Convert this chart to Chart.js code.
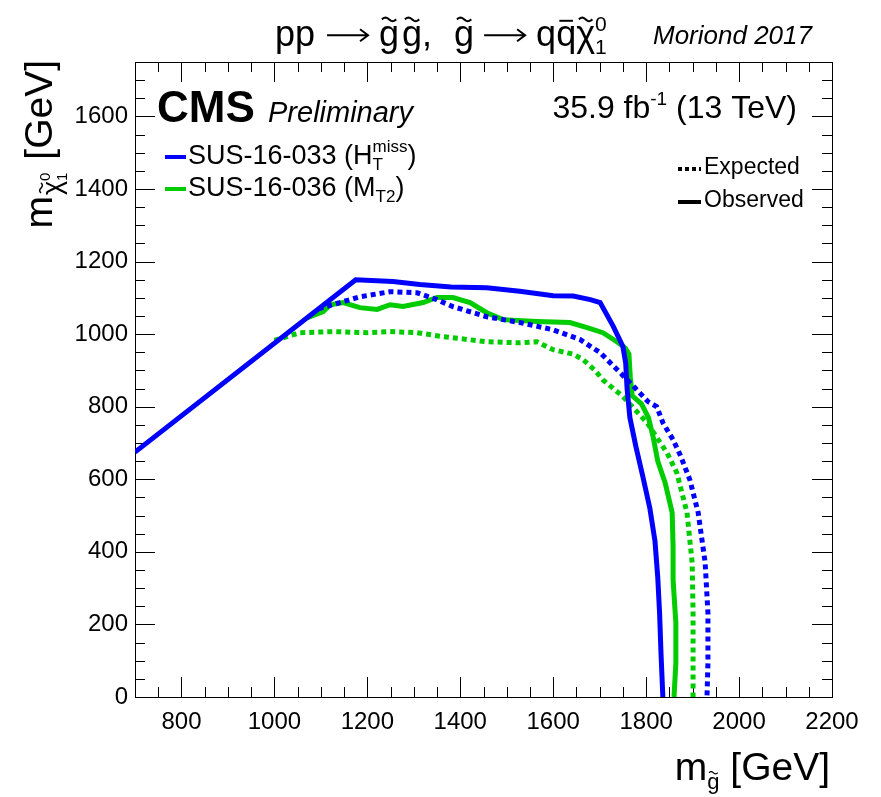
<!DOCTYPE html>
<html>
<head>
    <title>Gluino limits</title>
    <script src="https://cdn.jsdelivr.net/npm/chart.js"></script>
    <style>
        body { margin: 0; background: #fff; }
    </style>
</head>
<body>
    <canvas id="limits" width="881" height="797"></canvas>

    <script>
    // tick labels
    const xTickLabels = [800, 1000, 1200, 1400, 1600, 1800, 2000, 2200];
    const yTickLabels = [0, 200, 400, 600, 800, 1000, 1200, 1400, 1600];

    // SUS-16-033 (HT miss), observed
    const obs033X = [700, 1175, 1255, 1313, 1380, 1457, 1528, 1600, 1643, 1680, 1701, 1729, 1750, 1756, 1759, 1765, 1778, 1793, 1808, 1819, 1825, 1829, 1832, 1836];
    const obs033Y = [675, 1150, 1145, 1137, 1130, 1128, 1118, 1106, 1105, 1095, 1087, 1022, 966, 920, 850, 770, 690, 607, 520, 430, 330, 230, 120, 0];

    // SUS-16-033, expected
    const exp033X = [1095, 1141, 1184, 1249, 1307, 1350, 1384, 1457, 1528, 1600, 1658, 1701, 1744, 1776, 1804, 1823, 1836, 1858, 1873, 1894, 1912, 1927, 1933, 1933, 1931];
    const exp033Y = [1070, 1087, 1103, 1117, 1114, 1095, 1076, 1048, 1032, 1012, 985, 949, 894, 852, 814, 800, 756, 709, 668, 599, 508, 370, 232, 94, 0];

    // SUS-16-036 (MT2), observed
    const obs036X = [1070, 1105, 1120, 1148, 1184, 1221, 1249, 1277, 1320, 1350, 1384, 1421, 1457, 1492, 1565, 1636, 1673, 1707, 1737, 1755, 1763, 1766, 1770, 1790, 1805, 1815, 1825, 1841, 1856, 1858, 1858, 1864, 1864, 1860];
    const obs036Y = [1045, 1062, 1081, 1087, 1073, 1068, 1081, 1076, 1087, 1101, 1101, 1087, 1059, 1040, 1035, 1032, 1018, 1004, 979, 962, 945, 880, 830, 808, 770, 717, 650, 590, 508, 414, 323, 204, 94, 0];

    // SUS-16-036, expected
    const exp036X = [1000, 1055, 1126, 1199, 1249, 1307, 1363, 1384, 1457, 1528, 1565, 1600, 1643, 1664, 1690, 1707, 1750, 1776, 1802, 1823, 1845, 1866, 1888, 1899, 1901, 1901, 1901];
    const exp036Y = [983, 1004, 1007, 1004, 1007, 1004, 993, 990, 979, 976, 979, 957, 945, 930, 900, 874, 828, 792, 756, 715, 673, 618, 508, 370, 232, 94, 0];

    const BLUE = '#0000ff';
    const GREEN = '#00cc00';
    const FF = '"Liberation Sans", Arial, "DejaVu Sans", sans-serif';

    function pts(xs, ys) {
        return xs.map((x, i) => ({ x: x, y: ys[i] }));
    }

    function font(size, style) {
        return (style || '') + ' ' + size + 'px ' + FF;
    }

    // tilde / bar over a glyph
    function accent(ctx, kind, x, w, y, f) {
        const cx = x + w / 2;
        ctx.save();
        ctx.strokeStyle = ctx.fillStyle;
        ctx.lineWidth = Math.max(1.2, f * 0.055);
        ctx.beginPath();
        if (kind === 'tilde') {
            const hw = w * 0.36, ty = y - f * 0.74, amp = f * 0.05;
            for (let i = 0; i <= 20; i++) {
                const t = i / 20;
                const px = cx - hw + 2 * hw * t;
                const py = ty - amp * Math.sin(2 * Math.PI * t);
                if (i === 0) ctx.moveTo(px, py); else ctx.lineTo(px, py);
            }
        } else {
            const hw = w * 0.34, by = y - f * 0.7;
            ctx.moveTo(cx - hw, by);
            ctx.lineTo(cx + hw, by);
        }
        ctx.stroke();
        ctx.restore();
    }

    // ROOT style long arrow
    function arrow(ctx, x, w, y, f) {
        const ay = y - f * 0.3;
        ctx.save();
        ctx.strokeStyle = ctx.fillStyle;
        ctx.lineWidth = 2;
        ctx.beginPath();
        ctx.moveTo(x, ay);
        ctx.lineTo(x + w - 1, ay);
        ctx.moveTo(x + w - 9, ay - 6);
        ctx.lineTo(x + w - 1, ay);
        ctx.lineTo(x + w - 9, ay + 6);
        ctx.stroke();
        ctx.restore();
    }

    // pieces of text with sub/superscripts
    function seg(ctx, parts, draw, x0, y0) {
        let x = x0;
        for (const p of parts) {
            if (p.gap !== undefined) { x += p.gap; continue; }
            if (p.arrow !== undefined) {
                if (draw) arrow(ctx, x, p.arrow, y0, p.f);
                x += p.arrow;
                continue;
            }
            ctx.font = font(p.f, p.st);
            if (p.sup !== undefined) {
                const w1 = ctx.measureText(p.sup).width;
                const w2 = ctx.measureText(p.sub || '').width;
                if (draw) {
                    ctx.fillText(p.sup, x, y0 + p.dsup);
                    if (p.sub) ctx.fillText(p.sub, x, y0 + p.dsub);
                }
                x += Math.max(w1, w2);
            } else {
                const w = ctx.measureText(p.t).width;
                const yy = y0 + (p.dy || 0);
                if (draw) {
                    ctx.fillText(p.t, x, yy);
                    if (p.acc) accent(ctx, p.acc, x, w, yy, p.f);
                }
                x += w;
            }
        }
        return x - x0;
    }

    function rich(ctx, x, y, parts, align) {
        const w = seg(ctx, parts, false, 0, 0);
        const sx = align === 'right' ? x - w : align === 'center' ? x - w / 2 : x;
        seg(ctx, parts, true, sx, y);
    }

    const rootStyle = {
        id: 'rootStyle',
        beforeDatasetsDraw(chart) {
            const ctx = chart.ctx, a = chart.chartArea;
            const xs = chart.scales.x, ys = chart.scales.y;
            ctx.save();
            ctx.strokeStyle = '#000';
            ctx.lineWidth = 1;
            ctx.beginPath();
            for (let v = 700; v <= 2200; v += 50) {
                const p = Math.round(xs.getPixelForValue(v)) + 0.5;
                const L = v % 200 === 0 ? 20 : 10;
                ctx.moveTo(p, a.bottom); ctx.lineTo(p, a.bottom - L);
                ctx.moveTo(p, a.top); ctx.lineTo(p, a.top + L);
            }
            for (let v = 0; v <= 1750; v += 50) {
                const p = Math.round(ys.getPixelForValue(v)) + 0.5;
                const L = v % 200 === 0 ? 20 : 10;
                ctx.moveTo(a.left, p); ctx.lineTo(a.left + L, p);
                ctx.moveTo(a.right, p); ctx.lineTo(a.right - L, p);
            }
            ctx.stroke();
            ctx.strokeRect(Math.round(a.left) + 0.5, Math.round(a.top) + 0.5,
                Math.round(a.right - a.left), Math.round(a.bottom - a.top));
            ctx.restore();
        },
        afterDraw(chart) {
            const ctx = chart.ctx;
            ctx.save();
            ctx.fillStyle = '#000';
            ctx.textBaseline = 'alphabetic';

            // title
            const F = 36;
            rich(ctx, 275, 46, [
                { t: 'pp', f: F }, { gap: 12 }, { arrow: 42, f: F }, { gap: 10 },
                { t: 'g', f: F, acc: 'tilde' }, { gap: 3 }, { t: 'g', f: F, acc: 'tilde' },
                { t: ',', f: F }, { gap: 22 }, { t: 'g', f: F, acc: 'tilde' }, { gap: 10 },
                { arrow: 42, f: F }, { gap: 10 },
                { t: 'q', f: F }, { t: 'q', f: F, acc: 'bar' }, { t: '\u03c7', f: F, acc: 'tilde' },
                { sup: '0', sub: '1', f: 21, dsup: -15, dsub: 8 }
            ], 'left');
            rich(ctx, 812, 44, [{ t: 'Moriond 2017', f: 26, st: 'italic' }], 'right');

            // CMS label
            rich(ctx, 157, 122, [{ t: 'CMS', f: 44, st: 'bold' }], 'left');
            rich(ctx, 268, 122, [{ t: 'Preliminary', f: 29, st: 'italic' }], 'left');
            rich(ctx, 797, 118, [
                { t: '35.9 fb', f: 32 }, { sup: '-1', f: 19, dsup: -13 }, { t: ' (13 TeV)', f: 32 }
            ], 'right');

            // legend, analyses
            ctx.lineWidth = 4;
            ctx.strokeStyle = BLUE;
            ctx.beginPath(); ctx.moveTo(165, 157); ctx.lineTo(186, 157); ctx.stroke();
            ctx.strokeStyle = GREEN;
            ctx.beginPath(); ctx.moveTo(165, 189); ctx.lineTo(186, 189); ctx.stroke();
            rich(ctx, 188, 164, [
                { t: 'SUS-16-033 (H', f: 27 }, { sup: 'miss', sub: 'T', f: 17, dsup: -12, dsub: 6 }, { t: ')', f: 27 }
            ], 'left');
            rich(ctx, 188, 196, [
                { t: 'SUS-16-036 (M', f: 27 }, { t: 'T2', f: 17, dy: 6 }, { t: ')', f: 27 }
            ], 'left');

            // legend, line styles
            ctx.strokeStyle = '#000';
            ctx.lineWidth = 4;
            ctx.setLineDash([4, 3]);
            ctx.beginPath(); ctx.moveTo(678, 169); ctx.lineTo(701, 169); ctx.stroke();
            ctx.setLineDash([]);
            ctx.beginPath(); ctx.moveTo(678, 202); ctx.lineTo(701, 202); ctx.stroke();
            rich(ctx, 704, 174, [{ t: 'Expected', f: 23 }], 'left');
            rich(ctx, 704, 207, [{ t: 'Observed', f: 23 }], 'left');

            // x axis title
            rich(ctx, 830, 780, [
                { t: 'm', f: 39 }, { t: 'g', f: 22, dy: 9, acc: 'tilde' }, { t: ' [GeV]', f: 39 }
            ], 'right');

            // y axis title
            ctx.translate(52, 60);
            ctx.rotate(-Math.PI / 2);
            rich(ctx, 0, 0, [
                { t: 'm', f: 39 }, { gap: 1 }, { t: '\u03c7', f: 27, dy: 9, acc: 'tilde' },
                { sup: '0', sub: '1', f: 15, dsup: -2, dsub: 15 }, { gap: 2 }, { t: ' [GeV]', f: 39 }
            ], 'right');
            ctx.restore();
        }
    };

    const line = (label, xs, ys, color, dashed) => ({
        label: label,
        data: pts(xs, ys),
        showLine: true,
        borderColor: color,
        backgroundColor: color,
        borderWidth: 5,
        borderDash: dashed ? [5, 4] : [],
        pointRadius: 0,
        tension: 0,
        fill: false
    });

    new Chart(document.getElementById('limits'), {
        type: 'scatter',
        data: {
            datasets: [
                line('SUS-16-033 observed', obs033X, obs033Y, BLUE, false),
                line('SUS-16-033 expected', exp033X, exp033Y, BLUE, true),
                line('SUS-16-036 observed', obs036X, obs036Y, GREEN, false),
                line('SUS-16-036 expected', exp036X, exp036Y, GREEN, true)
            ]
        },
        options: {
            responsive: false,
            animation: false,
            layout: { padding: { left: 0, right: 49, top: 62, bottom: 0 } },
            plugins: {
                legend: { display: false },
                tooltip: { enabled: false }
            },
            scales: {
                x: {
                    type: 'linear',
                    min: 700,
                    max: 2200,
                    grid: { display: false, drawTicks: false },
                    border: { display: false },
                    afterBuildTicks: s => { s.ticks = xTickLabels.map(v => ({ value: v })); },
                    afterFit: s => { s.height = 100; },
                    ticks: {
                        color: '#000',
                        padding: 11,
                        maxRotation: 0,
                        font: { family: FF, size: 24 },
                        callback: v => String(v)
                    }
                },
                y: {
                    type: 'linear',
                    min: 0,
                    max: 1750,
                    grid: { display: false, drawTicks: false },
                    border: { display: false },
                    afterBuildTicks: s => { s.ticks = yTickLabels.map(v => ({ value: v })); },
                    afterFit: s => { s.width = 135; },
                    ticks: {
                        color: '#000',
                        padding: 7,
                        font: { family: FF, size: 24 },
                        callback: v => String(v)
                    }
                }
            }
        },
        plugins: [rootStyle]
    });
    </script>
</body>
</html>
